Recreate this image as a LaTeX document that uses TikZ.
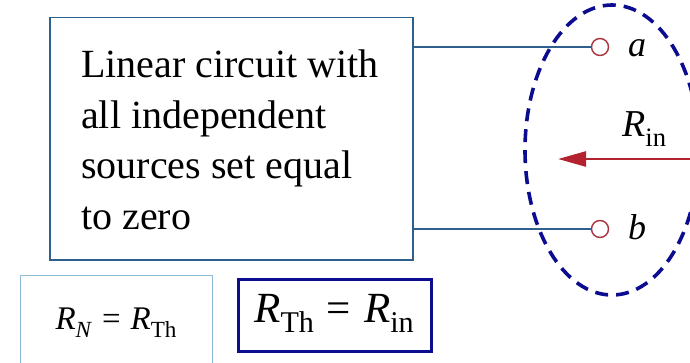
\documentclass[tikz,border=0pt]{standalone}
\usepackage{fontspec}
\setmainfont{Liberation Serif}
\usetikzlibrary{arrows.meta}
\definecolor{boxblue}{HTML}{2F5F8C}
\definecolor{lightbox}{HTML}{8CBCD8}
\definecolor{navy}{HTML}{0C0C90}
\definecolor{termred}{HTML}{A8323E}
\definecolor{arrred}{HTML}{B3222F}
\newcommand{\sub}[1]{\raisebox{-0.25em}{\scalebox{0.7}{#1}}}
\newcommand{\eqsp}{\hspace{0.3em}=\hspace{0.3em}}
\tikzset{
  mainbox/.style={draw=boxblue, line width=1.5pt, inner sep=0pt},
  wire/.style={draw=boxblue, line width=1.3pt},
  terminal/.style={circle, draw=termred, line width=1.4pt, minimum size=17pt, inner sep=0pt, fill=white},
  lbl/.style={inner sep=0pt, font=\fontsize{36}{40}\selectfont\itshape},
  dashell/.style={draw=navy, line width=3.6pt, dash pattern=on 13pt off 8pt},
}
\begin{document}
\begin{tikzpicture}[x=1pt,y=-1pt]
\useasboundingbox (0,0) rectangle (690,363);
\clip (0,0) rectangle (690,363);
% main box
\node[mainbox, anchor=north west, minimum width=363pt, minimum height=242pt] (main) at (49,17) {};
\node[anchor=north west, inner sep=0pt, align=left, font=\fontsize{40}{50.5}\selectfont] (txt) at (81,50)
  {Linear circuit with\\all independent\\sources set equal\\to zero};
% terminals
\node[terminal] (ta) at (600,47) {};
\node[terminal] (tb) at (600,229) {};
\draw[wire] (main.east |- ta) -- (ta.west);
\draw[wire] (main.east |- tb) -- (tb.west);
\node[lbl, anchor=base west] (la) at (628,57) {a};
\node[lbl, anchor=base west] (lb) at (628,240) {b};
% ellipse
\node[inner sep=0pt] (ec) at (612,150) {};
\draw[dashell] (ec) ellipse [x radius=87, y radius=145];
% arrow
\coordinate (as) at (692,159);
\coordinate (ae) at (558,159);
\draw[draw=arrred, line width=2.6pt, -{Triangle[length=28pt,width=15pt]}] (as) -- (ae);
\node[inner sep=0pt, anchor=base west, font=\fontsize{38}{40}\selectfont] (rin) at (622,137) {\textit{R}\sub{in}};
% bottom boxes
\node[draw=lightbox, line width=1.3pt, anchor=north west, minimum width=192pt, minimum height=100pt, inner sep=0pt] (bl) at (20,275) {};
\node[inner sep=0pt, anchor=base, font=\fontsize{33}{36}\selectfont] (rn) at (116,329) {\textit{R}\sub{\textit{N}}\eqsp\textit{R}\sub{Th}};
\node[draw=navy, line width=3.4pt, anchor=north west, minimum width=193pt, minimum height=72pt, inner sep=0pt] (br) at (237,278) {};
\node[inner sep=0pt, anchor=base, font=\fontsize{43}{48}\selectfont] (rth) at (334,322) {\textit{R}\sub{Th}\eqsp\textit{R}\sub{in}};
\end{tikzpicture}
\end{document}
